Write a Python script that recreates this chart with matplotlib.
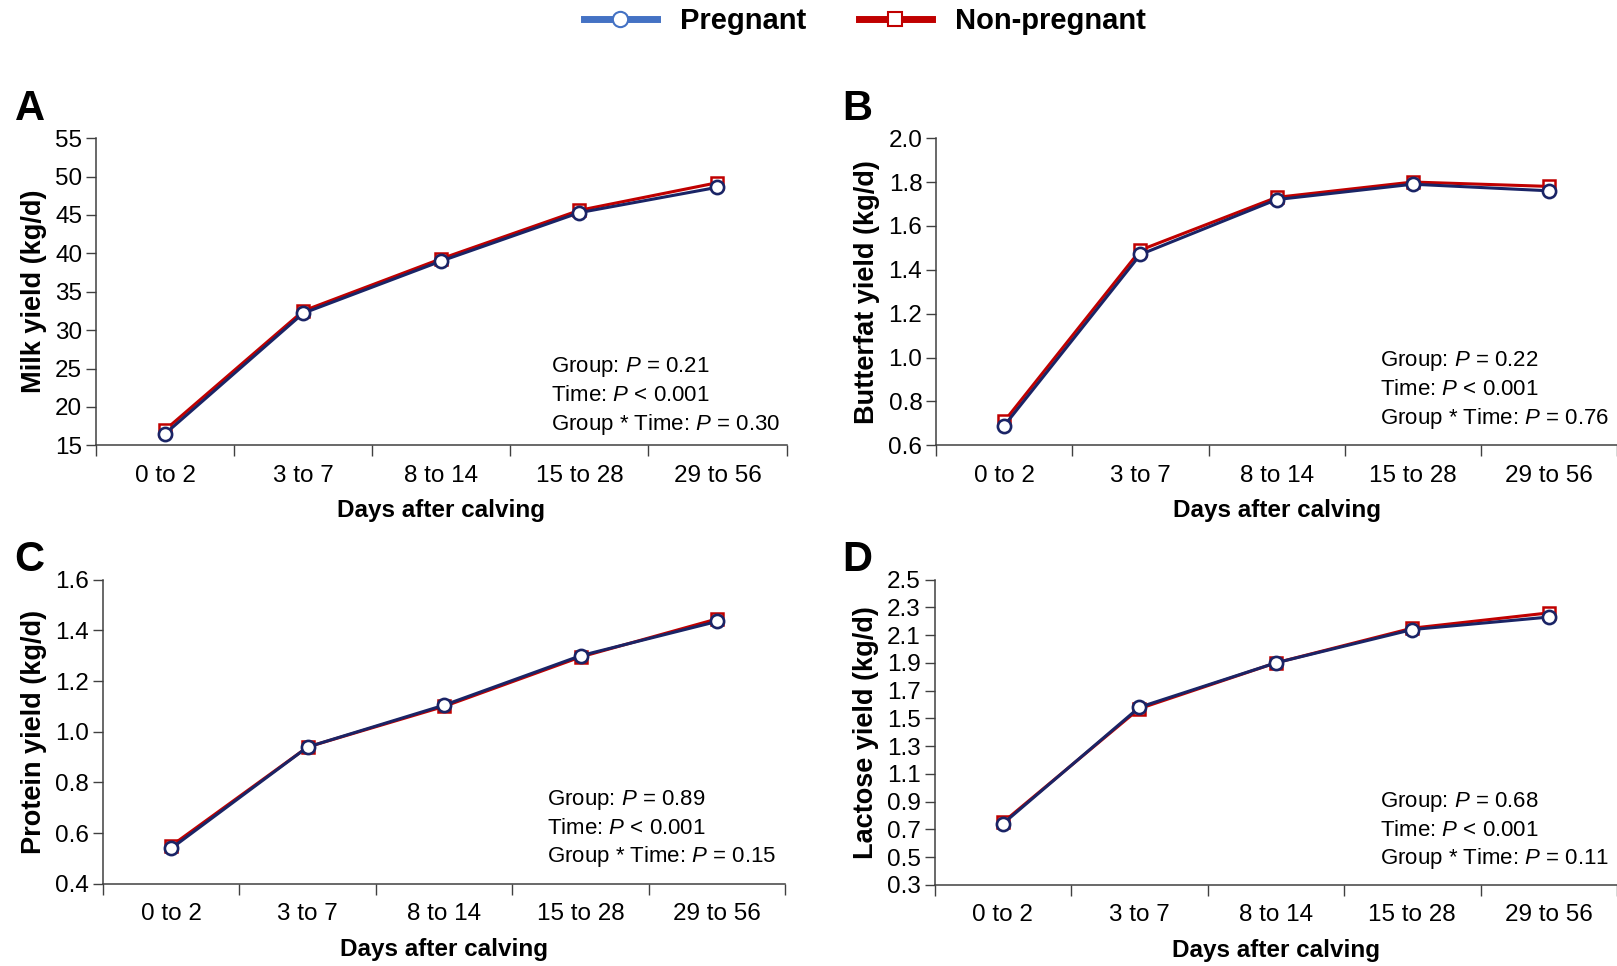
import matplotlib
matplotlib.use('Agg')
import matplotlib.pyplot as plt
from matplotlib.lines import Line2D

plt.rcParams['font.family'] = ['Liberation Sans', 'DejaVu Sans']
plt.rcParams['mathtext.fontset'] = 'custom'
plt.rcParams['mathtext.rm'] = 'Liberation Sans'
plt.rcParams['mathtext.it'] = 'Liberation Sans:italic'

# Categories on the x axis
days = ['0 to 2', '3 to 7', '8 to 14', '15 to 28', '29 to 56']

# Panel A - milk yield
milk_preg = [16.5, 32.2, 39.0, 45.3, 48.6]
milk_nonpreg = [17.0, 32.5, 39.3, 45.6, 49.2]

# Panel B - butterfat yield
fat_preg = [0.69, 1.47, 1.72, 1.79, 1.76]
fat_nonpreg = [0.71, 1.49, 1.73, 1.80, 1.78]

# Panel C - protein yield
prot_preg = [0.54, 0.94, 1.105, 1.30, 1.435]
prot_nonpreg = [0.55, 0.94, 1.10, 1.295, 1.445]

# Panel D - lactose yield
lact_preg = [0.74, 1.58, 1.90, 2.14, 2.23]
lact_nonpreg = [0.75, 1.57, 1.90, 2.15, 2.26]

# P-values text
stats_A = ['0.21', '< 0.001', '0.30']
stats_B = ['0.22', '< 0.001', '0.76']
stats_C = ['0.89', '< 0.001', '0.15']
stats_D = ['0.68', '< 0.001', '0.11']

NAVY = '#1A2466'
RED = '#C00000'

fig = plt.figure(figsize=(16.17, 9.66), dpi=100)

panels = [
    # letter, rect, preg, nonpreg, ylabel, yticks, ylim, fmt, stats, text pos, letter pos
    ('A', [0.0594, 0.539, 0.427, 0.318], milk_preg, milk_nonpreg,
     'Milk yield (kg/d)', list(range(15, 56, 5)), (15, 55), '{:.0f}', stats_A, (0.659, 0.254), (0.009, 0.887)),
    ('B', [0.579, 0.539, 0.421, 0.318], fat_preg, fat_nonpreg,
     'Butterfat yield (kg/d)', [0.6, 0.8, 1.0, 1.2, 1.4, 1.6, 1.8, 2.0], (0.6, 2.0), '{:.1f}', stats_B, (0.652, 0.274), (0.521, 0.887)),
    ('C', [0.0637, 0.085, 0.422, 0.315], prot_preg, prot_nonpreg,
     'Protein yield (kg/d)', [0.4, 0.6, 0.8, 1.0, 1.2, 1.4, 1.6], (0.4, 1.6), '{:.1f}', stats_C, (0.651, 0.275), (0.009, 0.42)),
    ('D', [0.578, 0.084, 0.422, 0.316], lact_preg, lact_nonpreg,
     'Lactose yield (kg/d)', [0.3, 0.5, 0.7, 0.9, 1.1, 1.3, 1.5, 1.7, 1.9, 2.1, 2.3, 2.5], (0.3, 2.5), '{:.1f}', stats_D, (0.653, 0.272), (0.521, 0.42)),
]

x = list(range(len(days)))

for letter, rect, preg, nonpreg, ylabel, yticks, ylim, fmt, stats, tpos, lpos in panels:
    ax = fig.add_axes(rect)
    ax.plot(x, nonpreg, color=RED, lw=2.2, marker='s', markersize=9,
            markerfacecolor='white', markeredgecolor=RED, markeredgewidth=1.8, zorder=3)
    ax.plot(x, preg, color=NAVY, lw=2.2, marker='o', markersize=9.5,
            markerfacecolor='white', markeredgecolor=NAVY, markeredgewidth=1.9, zorder=4)

    ax.set_xlim(-0.5, len(days) - 0.5)
    ax.set_ylim(*ylim)
    ax.set_yticks(yticks)
    ax.set_yticklabels([fmt.format(v) for v in yticks])

    # boundary ticks (major), labels at centres (minor)
    ax.set_xticks([i - 0.5 for i in range(len(days) + 1)])
    ax.set_xticklabels([])
    ax.set_xticks(x, minor=True)
    ax.set_xticklabels(days, minor=True)
    ax.tick_params(axis='x', which='major', direction='out', length=8, width=1, color='#404040')
    ax.tick_params(axis='x', which='minor', length=0, pad=14, labelsize=17.5)
    ax.tick_params(axis='y', direction='out', length=7, width=1, color='#404040', labelsize=17.5, pad=3)

    for s in ['top', 'right']:
        ax.spines[s].set_visible(False)
    for s in ['left', 'bottom']:
        ax.spines[s].set_color('#404040')
        ax.spines[s].set_linewidth(1.1)
    ax.spines['bottom'].set_zorder(5)

    ax.set_ylabel(ylabel, fontsize=19.5, fontweight='bold', labelpad=6)
    ax.set_xlabel('Days after calving', fontsize=17.5, fontweight='bold', labelpad=9)

    tx, ty = tpos
    lines = ['Group: $\\it{P}$ = ' + stats[0],
             'Time: $\\it{P}$ ' + stats[1],
             'Group * Time: $\\it{P}$ = ' + stats[2]]
    for k, txt in enumerate(lines):
        ax.text(tx, ty - k * 0.093, txt, transform=ax.transAxes, fontsize=16,
                ha='left', va='center')

    fig.text(lpos[0], lpos[1], letter, fontsize=30, fontweight='bold',
             ha='left', va='center')

# legend at the top
handles = [
    Line2D([], [], color='#4472C4', lw=5, marker='o', markersize=11,
           markerfacecolor='white', markeredgecolor='#4472C4', markeredgewidth=1.5),
    Line2D([], [], color=RED, lw=5, marker='s', markersize=10,
           markerfacecolor='white', markeredgecolor=RED, markeredgewidth=1.5),
]
fig.legend(handles, ['Pregnant', 'Non-pregnant'], loc='upper center',
           bbox_to_anchor=(0.535, 1.02), ncol=2, frameon=False,
           prop={'weight': 'bold', 'size': 21}, handlelength=2.5,
           columnspacing=1.8, handletextpad=0.8)

fig.savefig('out.png', dpi=100)
